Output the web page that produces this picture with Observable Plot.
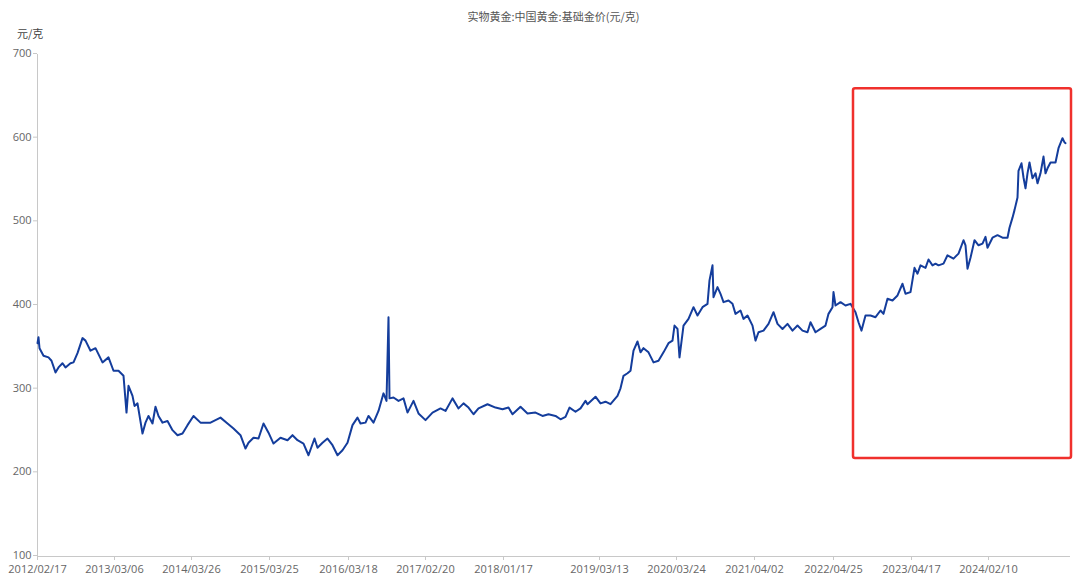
<!DOCTYPE html>
<html><head><meta charset="utf-8">
<script src="https://cdn.jsdelivr.net/npm/d3@7"></script>
<script src="https://cdn.jsdelivr.net/npm/@observablehq/plot@0.6"></script>
<style>
body{margin:0;background:#fff;}
#wrap{position:relative;width:1080px;height:581px;}
#title{height:26px;line-height:32px;box-sizing:border-box;padding-left:37px;padding-right:10px;text-align:center;font-size:11px;color:#555;font-family:"Noto Sans CJK SC",sans-serif;overflow:visible;}
#unit{position:absolute;left:17px;top:25px;font-size:11px;line-height:16px;color:#444;font-family:"Noto Sans CJK SC",sans-serif;z-index:2;}
#chart svg{display:block;}
</style></head><body>
<div id="wrap">
<div id="title">实物黄金:中国黄金:基础金价(元/克)</div>
<div id="unit">元/克</div>
<div id="chart"></div>
</div>
<script>
// observation index (trading-day position on the category axis)
const obsIndex = [0,3,6,18,33,42,54,63,75,84,99,108,120,135,144,159,174,195,213,228,243,258,267,273,285,291,300,315,324,333,345,354,363,375,390,405,420,435,450,468,489,519,549,570,588,609,624,633,648,663,678,693,708,729,750,765,780,798,813,831,840,855,870,885,900,915,930,945,960,969,984,993,1008,1023,1038,1047,1053,1056,1068,1083,1098,1110,1128,1143,1164,1185,1209,1224,1245,1263,1278,1293,1308,1323,1350,1374,1395,1413,1425,1449,1470,1494,1515,1533,1554,1569,1584,1596,1614,1629,1644,1650,1674,1689,1704,1719,1740,1749,1758,1770,1779,1788,1800,1809,1818,1833,1848,1863,1878,1893,1905,1911,1920,1926,1938,1953,1968,1980,1995,2010,2016,2025,2028,2040,2049,2058,2073,2085,2094,2109,2118,2130,2145,2154,2163,2178,2193,2208,2220,2235,2250,2265,2280,2295,2310,2319,2334,2349,2364,2373,2385,2388,2394,2409,2424,2439,2454,2463,2472,2484,2499,2514,2529,2538,2550,2565,2580,2595,2604,2619,2631,2640,2649,2664,2673,2685,2694,2703,2718,2730,2748,2763,2778,2784,2790,2799,2811,2823,2835,2844,2850,2865,2880,2895,2910,2916,2925,2931,2940,2943,2952,2958,2964,2970,2976,2985,2994,3000,3009,3018,3024,3030,3039,3054,3063,3075,3081,3084];
// 基础金价 (元/克)
const priceValues = [355,362,349,340,338,334,320,326,331,326,331,332,343,361,358,346,349,332,338,322,322,316,272,304,292,280,283,247,260,268,259,279,268,260,262,251,245,247,257,268,260,260,266,259,253,245,229,236,242,241,259,248,235,242,239,245,239,235,221,241,230,236,241,233,221,227,236,257,266,259,260,268,260,274,295,286,386,289,290,286,289,272,286,271,263,272,277,274,289,277,283,278,270,277,282,278,276,278,270,279,271,272,268,270,268,264,267,278,273,277,286,282,291,283,285,282,292,301,316,319,322,346,357,344,349,344,332,334,344,355,358,376,372,338,376,384,398,388,398,402,430,448,410,422,414,404,406,402,390,394,384,388,376,358,368,370,378,392,378,372,378,370,376,370,368,380,368,372,376,390,398,416,400,404,400,402,392,380,370,388,388,386,394,390,408,406,412,426,414,416,445,438,448,445,455,448,450,448,450,460,456,462,478,472,444,457,478,472,474,482,469,481,484,481,481,493,505,514,529,561,570,553,540,558,571,552,558,546,558,578,558,564,571,571,588,600,595,594];
// x-axis tick positions and labels
const tickIndex = [0,231,462,696,933,1164,1398,1686,1917,2151,2388,2622,2853];
const tickLabels = ["2012/02/17","2013/03/06","2014/03/26","2015/03/25","2016/03/18","2017/02/20","2018/01/17","2019/03/13","2020/03/24","2021/04/02","2022/04/25","2023/04/17","2024/02/10"];
const yTickValues = [100,200,300,400,500,600,700];
// highlighted region (red box)
const boxStart = [2448], boxEnd = [3102], boxLow = [217], boxHigh = [659];

const series = obsIndex.map((x, i) => ({x, v: priceValues[i]}));
const boxes = boxStart.map((s, i) => ({x1: s, x2: boxEnd[i], y1: boxLow[i], y2: boxHigh[i]}));

const chart = Plot.plot({
  width: 1080, height: 555,
  marginLeft: 37, marginRight: 10, marginTop: 28, marginBottom: 25,
  style: {fontFamily: "'Open Sans','Noto Sans CJK SC',sans-serif", fontSize: "11px", color: "#666", background: "#fff"},
  x: {domain: [0, 3099], axis: null},
  y: {domain: [100, 700], axis: null},
  marks: [
    Plot.ruleX([0], {stroke: "#c8c8c8"}),
    Plot.ruleY([100], {stroke: "#c8c8c8"}),
    Plot.axisY({ticks: yTickValues, tickSize: 4, tickPadding: 2, stroke: "#c8c8c8", fill: "#666", label: null, fontSize: 11, dy: -1}),
    Plot.axisX({ticks: tickIndex, tickFormat: d => tickLabels[tickIndex.indexOf(d)], tickSize: 4, tickPadding: 5, stroke: "#c8c8c8", fill: "#666", label: null, fontSize: 11}),
    Plot.line(series, {x: "x", y: "v", stroke: "#143d9c", strokeWidth: 2, strokeLinejoin: "round"}),
    Plot.rect(boxes, {x1: "x1", x2: "x2", y1: "y1", y2: "y2", fill: "none", stroke: "#f0302c", strokeWidth: 2.5, rx: 2})
  ]
});
document.getElementById("chart").appendChild(chart);
</script>
</body></html>
